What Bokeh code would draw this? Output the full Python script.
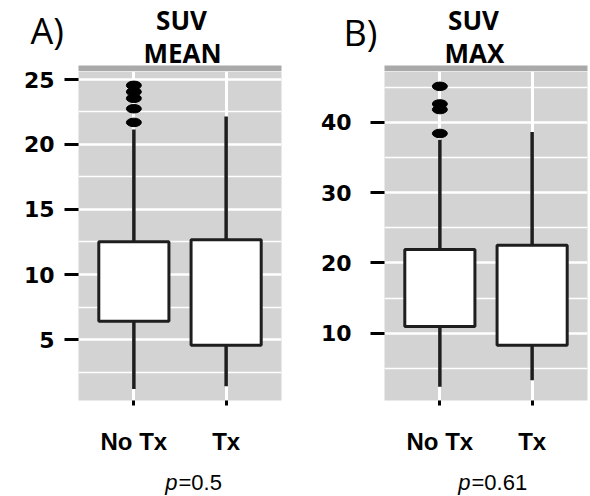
from bokeh.plotting import figure
from bokeh.layouts import row, column
from bokeh.models import Range1d, FixedTicker, ColumnDataSource
from bokeh.core.properties import value
from bokeh.embed import file_html
from bokeh.resources import INLINE

# ---- data ----
categories = ["No Tx", "Tx"]

mean_lower = [1.2, 1.4]
mean_q1 = [6.4, 4.55]
mean_median = [9.2, 9.15]
mean_q3 = [12.52, 12.67]
mean_upper = [21.15, 22.15]
mean_outliers_notx = [21.7, 22.75, 23.55, 24.05, 24.55]
mean_outliers_tx = []
mean_ticks = [5, 10, 15, 20, 25]
mean_minor = [2.5, 7.5, 12.5, 17.5, 22.5]

max_lower = [2.4, 3.3]
max_q1 = [10.95, 8.3]
max_median = [16.2, 16.8]
max_q3 = [21.9, 22.5]
max_upper = [37.5, 38.6]
max_outliers_notx = [38.4, 41.8, 42.6, 45.1]
max_outliers_tx = []
max_ticks = [10, 20, 30, 40]
max_minor = [5, 15, 25, 35, 45]

panel_letters = ["A)", "B)"]
panel_titles = [["SUV", "MEAN"], ["SUV", "MAX"]]
p_values = ["=0.5", "=0.61"]

PANEL = "#d3d3d3"
STRIP = "#a9a9a9"
INK = "#1e1e1e"
TOP_H = 71          # header height (titles + facet strip)
STRIP_H = 6
FRAME_H = 329
FRAME_W = 203
BOT_H = 38
MAIN_H = 496 - TOP_H - BOT_H
XS, XE = 0.4, 2.6
A_W, A_LEFT, A_RIGHT = 300, 78, 19
B_W, B_LEFT, B_RIGHT = 290, 84, 3


def panel(width, left, right, y0, y1, ticks, minor, lower, q1, med, q3, upper,
          out_notx, out_tx, standoff, tick_out):
    p = figure(width=width, height=MAIN_H, output_backend="svg", toolbar_location=None,
               title_location=None, x_range=Range1d(XS, XE), y_range=Range1d(y0, y1))
    p.min_border_left = left
    p.min_border_right = right
    p.min_border_top = 0
    p.min_border_bottom = MAIN_H - FRAME_H
    p.outline_line_color = None
    p.background_fill_color = PANEL
    p.border_fill_color = "white"

    xs = [1, 2]
    p.yaxis.ticker = FixedTicker(ticks=ticks, minor_ticks=minor)
    p.xaxis.ticker = FixedTicker(ticks=xs)
    p.xaxis.major_label_overrides = {1: categories[0], 2: categories[1]}
    for ax in (p.xaxis[0], p.yaxis[0]):
        ax.axis_line_color = None
        ax.major_tick_line_color = "black"
        ax.major_tick_line_width = 3
        ax.major_tick_in = 0
        ax.minor_tick_line_color = None
    p.yaxis.major_tick_out = tick_out
    p.yaxis.major_label_standoff = standoff
    p.yaxis.major_label_text_font = "DejaVu Sans"
    p.yaxis.major_label_text_font_style = "bold"
    p.yaxis.major_label_text_font_size = "22px"
    p.yaxis.major_label_text_color = "black"
    p.xaxis.major_tick_out = 5
    p.xaxis.major_label_standoff = 22
    p.xaxis.major_label_text_font = "Liberation Sans"
    p.xaxis.major_label_text_font_style = "bold"
    p.xaxis.major_label_text_font_size = "24px"
    p.xaxis.major_label_text_color = "black"

    p.ygrid.grid_line_color = "white"
    p.ygrid.grid_line_width = 2.5
    p.ygrid.minor_grid_line_color = "white"
    p.ygrid.minor_grid_line_width = 1.5
    p.xgrid.grid_line_color = "white"
    p.xgrid.grid_line_width = 3

    src = ColumnDataSource(dict(x=xs, lower=lower, q1=q1, med=med, q3=q3, upper=upper))
    bw = 0.76
    p.segment(x0="x", x1="x", y0="q3", y1="upper", source=src, line_color=INK, line_width=3.5)
    p.segment(x0="x", x1="x", y0="lower", y1="q1", source=src, line_color=INK, line_width=3.5)
    p.vbar(x="x", width=bw, bottom="q1", top="q3", source=src, fill_color="white",
           line_color=INK, line_width=3)
    p.rect(x="x", y="med", width=bw, height=0, source=src, line_color=INK, line_width=3)

    ox = [1] * len(out_notx) + [2] * len(out_tx)
    oy = list(out_notx) + list(out_tx)
    p.ellipse(x=ox, y=oy, width=15, height=8.5, width_units="screen", height_units="screen",
              fill_color="black", line_color="black")
    return p


pa = panel(A_W, A_LEFT, A_RIGHT, 0.308, 25.615, mean_ticks, mean_minor,
           mean_lower, mean_q1, mean_median, mean_q3, mean_upper,
           mean_outliers_notx, mean_outliers_tx, 10, 14)
pb = panel(B_W, B_LEFT, B_RIGHT, 0.43, 47.21, max_ticks, max_minor,
           max_lower, max_q1, max_median, max_q3, max_upper,
           max_outliers_notx, max_outliers_tx, 19, 14)


def text_strip(height, y_top):
    f = figure(width=590, height=height, output_backend="svg", toolbar_location=None,
               title_location=None, x_range=Range1d(0, 590), y_range=Range1d(y_top + height, y_top),
               x_axis_type=None, y_axis_type=None)
    f.min_border_left = f.min_border_right = f.min_border_top = f.min_border_bottom = 0
    f.outline_line_color = None
    f.xgrid.visible = False
    f.ygrid.visible = False
    return f


# ---- header with panel letters, titles and the facet strips (page pixel coordinates) ----
top = text_strip(TOP_H, 0)
strip_left = [A_LEFT, A_W + B_LEFT]
strip_right = [A_LEFT + FRAME_W, A_W + B_LEFT + FRAME_W]
top.quad(left=strip_left, right=strip_right, bottom=[TOP_H] * 2, top=[TOP_H - STRIP_H] * 2,
         fill_color=STRIP, line_color=None)
top.text(x=[30, 343], y=[30, 32], text=panel_letters, text_font=value("Open Sans"),
         text_font_size="36px", text_color="black", text_align="left", text_baseline="middle")
top.text(x=[181, 473], y=[19, 19], text=[t[0] for t in panel_titles], text_font=value("Open Sans"),
         text_font_style="bold", text_font_size="26px", text_color="black",
         text_align="center", text_baseline="middle")
top.text(x=[182, 474], y=[52.5, 52.5], text=[t[1] for t in panel_titles], text_font=value("Open Sans"),
         text_font_style="bold", text_font_size="26px", text_color="black",
         text_align="center", text_baseline="middle")

# ---- footer with p-values ----
bot = text_strip(BOT_H, 496 - BOT_H)
bot.text(x=[177, 470], y=[482, 482], text=["p", "p"], text_font=value("Liberation Sans"),
         text_font_style="italic", text_font_size="22px", text_color="black",
         text_align="right", text_baseline="middle")
bot.text(x=[178, 471], y=[482, 482], text=p_values, text_font=value("Liberation Sans"),
         text_font_size="22px", text_color="black", text_align="left", text_baseline="middle")

layout = column(top, row(pa, pb, spacing=0), bot, spacing=0)
open("out.html", "w").write(file_html(layout, INLINE))
